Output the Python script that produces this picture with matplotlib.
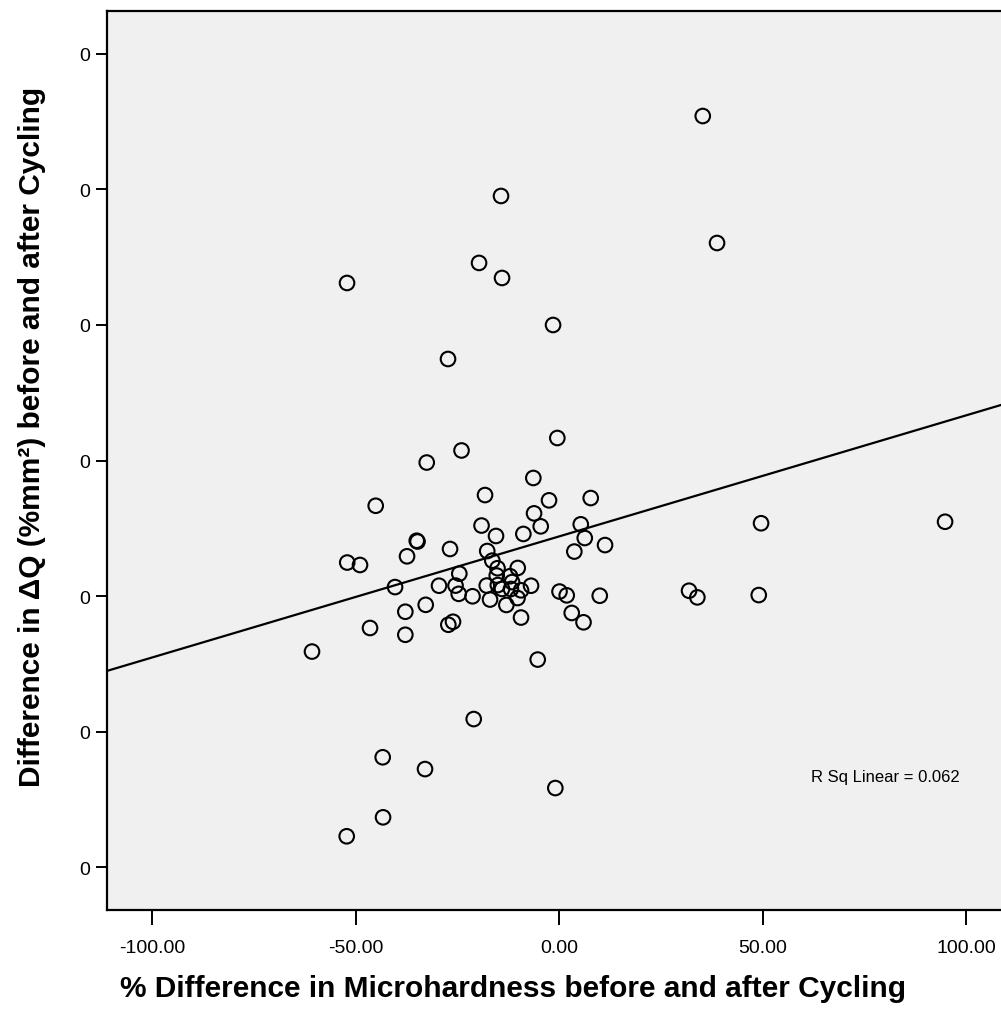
import numpy as np
import matplotlib
matplotlib.use("Agg")
import matplotlib.pyplot as plt

plt.rcParams['font.family'] = ['Liberation Sans', 'DejaVu Sans']

# % difference in microhardness (x) and difference in dQ (y)
hardness_diff = [35.28, -14.31, 38.79, -19.71, -14.06, -52.16, -1.52, -27.34, -0.47, -24.02,
                 -32.57, -6.37, -18.24, -2.51, 7.74, -6.19, -45.11, -4.55, -19.10, -15.54,
                 -8.82, 5.29, 6.27, 11.26, 3.71, -35.03, -34.83, -26.84, -37.41, -52.11,
                 -48.97, -17.70, -16.45, -15.17, -10.20, -24.56, -15.36, -12.09, -40.36, -29.55,
                 -25.49, -24.71, -21.31, -17.82, -15.09, -11.87, -9.39, -6.93, 0.07, 1.84,
                 9.96, -17.01, -13.00, -10.25, -37.83, -32.82, 3.07, 5.97, -9.39, -27.26,
                 -26.11, -46.51, -37.83, -60.77, -5.29, 49.61, 94.84, 31.91, 33.95, 49.04,
                 -21.02, -43.39, -32.99, -0.96, -43.31, -52.24, -14.06, -11.60]
dq_diff = [3.542, 2.952, 2.605, 2.458, 2.347, 2.310, 2.000, 1.749, 1.166, 1.074,
           0.985, 0.871, 0.745, 0.706, 0.723, 0.610, 0.666, 0.514, 0.520, 0.443,
           0.458, 0.529, 0.428, 0.376, 0.328, 0.408, 0.402, 0.347, 0.293, 0.247,
           0.229, 0.332, 0.261, 0.205, 0.207, 0.165, 0.151, 0.146, 0.066, 0.076,
           0.077, 0.016, -0.002, 0.077, 0.081, 0.052, 0.042, 0.076, 0.033, 0.005,
           0.002, -0.026, -0.066, -0.015, -0.116, -0.065, -0.125, -0.194, -0.159, -0.212,
           -0.190, -0.236, -0.286, -0.410, -0.469, 0.537, 0.548, 0.039, -0.010, 0.007,
           -0.908, -1.190, -1.277, -1.417, -1.633, -1.773, 0.052, 0.103]

# fit line as drawn in the chart
fit_slope = 0.00893
fit_intercept = 0.440
r_sq = 0.062

x_ticks = [-100, -50, 0, 50, 100]
y_ticks = [-2, -1, 0, 1, 2, 3, 4]
y_tick_labels = ["0"] * len(y_ticks)  # labels are cut off in the original

fig = plt.figure(figsize=(10.01, 10.12), dpi=100)
ax = fig.add_axes([107 / 1001, 1 - 911 / 1012, (1010 - 107) / 1001, (911 - 12) / 1012])
ax.set_facecolor('#f0f0f0')

ax.scatter(hardness_diff, dq_diff, s=110, facecolors='none', edgecolors='black', linewidths=1.5, zorder=3)

xl = np.array([-111.16, 110.8])
ax.plot(xl, fit_intercept + fit_slope * xl, color='black', linewidth=1.6, zorder=2)

ax.set_xlim(-111.16, 110.8)
ax.set_ylim(-2.317, 4.317)
ax.set_xticks(x_ticks)
ax.set_xticklabels([f"{v:.2f}" for v in x_ticks], fontsize=14)
ax.set_yticks(y_ticks)
ax.set_yticklabels(y_tick_labels, fontsize=14)
ax.tick_params(axis='x', direction='out', length=11, width=1.4, pad=10)
ax.tick_params(axis='y', direction='out', length=8, width=1.4, pad=4)

for side in ['left', 'bottom', 'top']:
    ax.spines[side].set_linewidth(1.6)
ax.spines['right'].set_visible(False)

ax.set_xlabel("% Difference in Microhardness before and after Cycling",
              fontsize=21.5, fontweight='bold')
ax.set_ylabel("Difference in ΔQ (%mm²) before and after Cycling",
              fontsize=21.5, fontweight='bold')
ax.xaxis.set_label_coords(0.45, -0.071)
ax.yaxis.set_label_coords(-0.0675, 0.527)

ax.text(0.8616, 0.148, f"R Sq Linear = {r_sq:.3f}", transform=ax.transAxes,
        ha='center', va='center', fontsize=12)

fig.savefig("out.png", dpi=100)
